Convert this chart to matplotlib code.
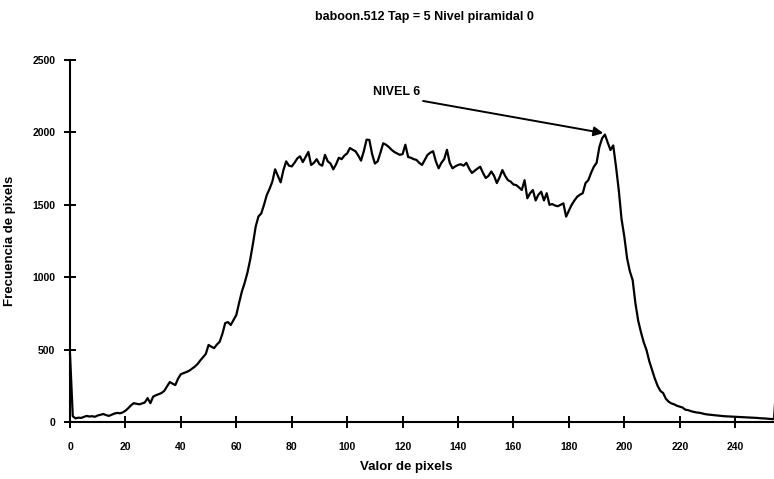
import matplotlib
matplotlib.use('Agg')
import matplotlib.pyplot as plt
import numpy as np

# histogram of grey levels 0..255
pixel_values = np.arange(256)
frequencies = [
    470, 40, 25, 30, 28, 35, 42, 38, 40, 36,
    45, 50, 55, 48, 42, 50, 58, 63, 60, 66,
    78, 95, 115, 130, 126, 122, 128, 135, 165, 130,
    175, 185, 192, 200, 215, 245, 276, 265, 255, 300,
    330, 338, 345, 354, 368, 382, 400, 425, 448, 470,
    532, 520, 510, 535, 554, 610, 683, 690, 670, 705,
    739, 822, 900, 960, 1030, 1120, 1230, 1350, 1420, 1440,
    1500, 1568, 1610, 1660, 1745, 1700, 1655, 1740, 1800, 1770,
    1765, 1790, 1820, 1835, 1795, 1830, 1865, 1775, 1790, 1815,
    1780, 1770, 1845, 1800, 1785, 1745, 1780, 1825, 1815, 1840,
    1855, 1892, 1880, 1870, 1840, 1805, 1870, 1950, 1948, 1850,
    1785, 1800, 1860, 1925, 1915, 1900, 1880, 1865, 1855, 1845,
    1850, 1915, 1830, 1825, 1815, 1810, 1790, 1775, 1810, 1845,
    1860, 1870, 1800, 1752, 1790, 1815, 1880, 1790, 1752, 1765,
    1775, 1780, 1770, 1790, 1750, 1720, 1735, 1750, 1763, 1720,
    1685, 1700, 1730, 1700, 1650, 1690, 1740, 1700, 1670, 1660,
    1640, 1636, 1620, 1602, 1670, 1545, 1580, 1602, 1530, 1570,
    1590, 1530, 1580, 1500, 1505, 1495, 1490, 1500, 1510, 1418,
    1460, 1500, 1530, 1556, 1570, 1580, 1650, 1670, 1720, 1763,
    1790, 1900, 1960, 1985, 1930, 1878, 1910, 1763, 1600, 1400,
    1280, 1130, 1040, 980, 820, 700, 620, 550, 497, 420,
    360, 300, 250, 215, 200, 160, 140, 128, 122, 112,
    106, 100, 85, 82, 75, 70, 66, 64, 60, 55,
    52, 50, 48, 46, 44, 42, 40, 39, 38, 37,
    36, 35, 34, 33, 32, 31, 30, 29, 28, 26,
    25, 24, 22, 21, 20, 300,
]

peak_level = 193
peak_label = 'NIVEL 6'
title = 'baboon.512 Tap = 5 Nivel piramidal 0'

plt.rcParams['font.family'] = ['Liberation Sans', 'DejaVu Sans']
plt.rcParams['font.weight'] = 'bold'

fig = plt.figure(figsize=(7.74, 4.79), dpi=100)
ax = fig.add_axes([70 / 774, 57 / 479, 704 / 774, 362 / 479])

ax.plot(pixel_values, frequencies, color='black', lw=1.6, clip_on=False)

ax.set_xlim(0, 254)
ax.set_ylim(0, 2500)
ax.set_xticks(np.arange(0, 241, 20))
ax.set_yticks(np.arange(0, 2501, 500))

for side in ['top', 'right']:
    ax.spines[side].set_visible(False)
for side in ['left', 'bottom']:
    ax.spines[side].set_linewidth(1.5)

ax.tick_params(direction='inout', length=9, width=1.4, labelsize=7.5, pad=6)
ax.tick_params(axis='x', pad=10)
for lab in ax.get_xticklabels() + ax.get_yticklabels():
    lab.set_fontweight('bold')

ax.set_xlabel('Valor de pixels', fontsize=9.5, fontweight='bold')
ax.set_ylabel('Frecuencia de pixels', fontsize=9.5, fontweight='bold')
ax.xaxis.set_label_coords(0.478, -0.108)
ax.yaxis.set_label_coords(-0.077, 0.5)

fig.text(0.548, 0.964, title, ha='center', va='center', fontsize=9, fontweight='bold')

ax.text(118, 2282, peak_label, ha='center', va='center', fontsize=9, fontweight='bold')
ax.annotate('', xy=(peak_level - 0.6, frequencies[peak_level] + 10), xytext=(127.4, 2217),
            arrowprops=dict(arrowstyle='-|>', color='black', lw=1.4, mutation_scale=14,
                            shrinkA=0, shrinkB=0))

fig.savefig('out.png', dpi=100, facecolor='white')
